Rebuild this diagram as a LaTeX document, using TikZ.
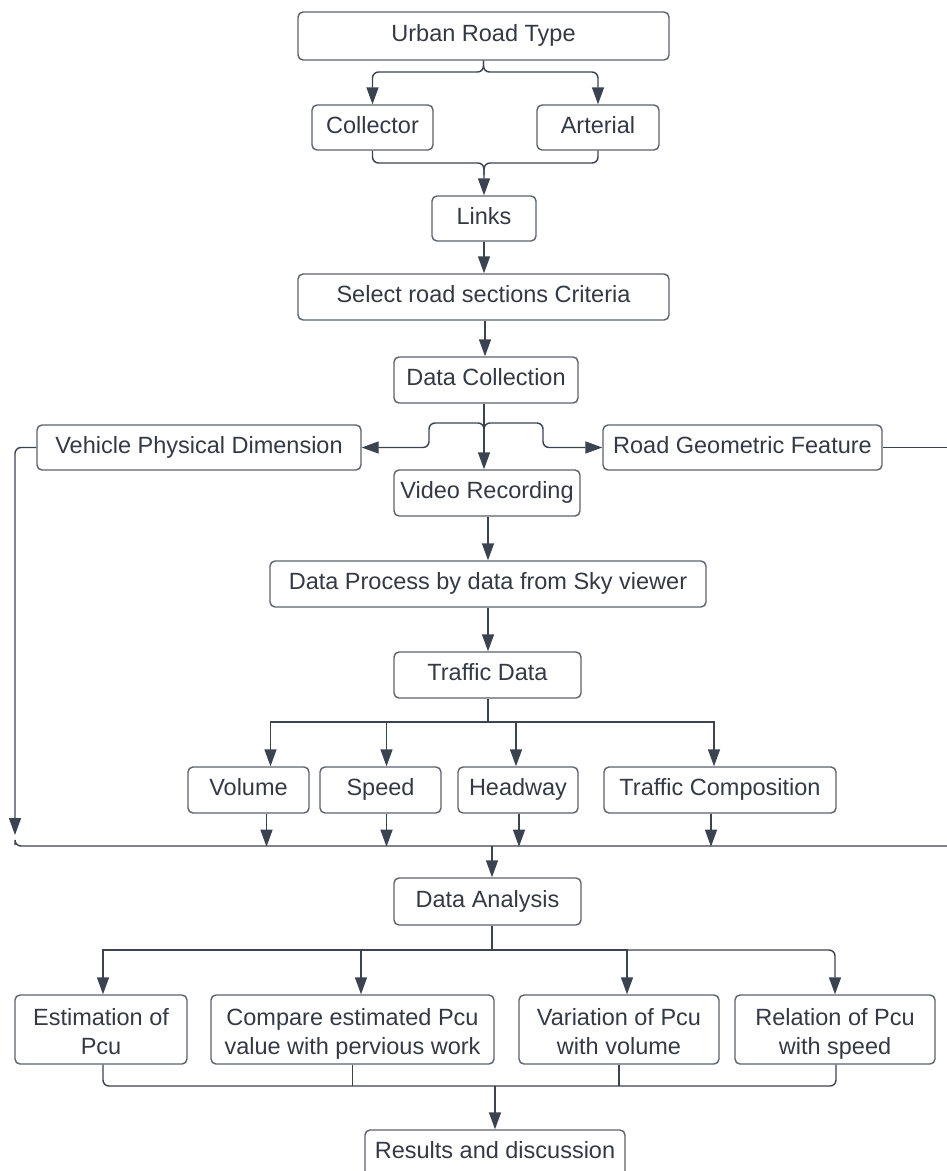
\documentclass[tikz,border=0pt]{standalone}
\usepackage{fontspec}
\setmainfont{Liberation Sans}
\usetikzlibrary{arrows.meta}
\definecolor{linec}{HTML}{3B4350}
\definecolor{boxc}{HTML}{5C636E}
\definecolor{txtc}{HTML}{333A45}
\tikzset{
  bxbase/.style={draw=boxc, line width=1.4pt, rounded corners=5pt, fill=white, text=txtc,
    inner sep=0pt, align=center, font=\fontsize{23.5}{29}\selectfont},
  bx/.style={bxbase, text height=16pt, text depth=5pt},
  conn/.style={draw=linec, line width=1.4pt},
  rconn/.style={conn, rounded corners=6pt},
  arr/.style={conn, -{Triangle[length=17pt,width=12pt]}},
  rarr/.style={rconn, -{Triangle[length=17pt,width=12pt]}},
}
\newcommand{\bxnode}[6]{\node[bx, minimum width=#4pt, minimum height=#5pt] (#1) at (#2,#3) {#6};}
\newcommand{\mlnode}[7]{\node[bxbase, minimum width=#4pt, minimum height=#5pt] (#1) at (#2,#3)
  {\rule{0pt}{26pt}#6\\#7\rule[-5pt]{0pt}{5pt}};}
\begin{document}
\begin{tikzpicture}[x=1pt,y=-1pt]
\useasboundingbox (0,0) rectangle (947,1171);
\clip (0,0) rectangle (947,1171);
\fill[white] (0,0) rectangle (947,1171);
% nodes
\bxnode{urban}{483.5}{36}{371}{48}{Urban Road Type}
\bxnode{collector}{372.5}{127.5}{121}{45}{Collector}
\bxnode{arterial}{598}{127.5}{122}{45}{Arterial}
\bxnode{links}{484}{218.5}{104}{45}{Links}
\bxnode{select}{483.5}{297}{371}{46}{Select road sections Criteria}
\bxnode{dc}{486}{380}{184}{46}{Data Collection}
\bxnode{vehicle}{199}{447.5}{324}{45}{Vehicle Physical Dimension}
\bxnode{road}{742.5}{447.5}{279}{45}{Road Geometric Feature}
\bxnode{video}{487}{493}{186}{46}{Video Recording}
\bxnode{dp}{488}{584}{436}{46}{Data Process by data from Sky viewer}
\bxnode{td}{487.5}{675}{187}{46}{Traffic Data}
\bxnode{volume}{248.5}{790}{121}{46}{Volume}
\bxnode{speed}{380.5}{790}{121}{46}{Speed}
\bxnode{headway}{518}{790}{120}{46}{Headway}
\bxnode{tc}{720}{790}{232}{46}{Traffic Composition}
\bxnode{da}{487.5}{901.5}{187}{47}{Data Analysis}
\mlnode{est}{101}{1029.5}{172}{69}{Estimation of}{Pcu}
\mlnode{cmp}{352.5}{1029.5}{283}{69}{Compare estimated Pcu}{value with pervious work}
\mlnode{var}{619}{1029.5}{200}{69}{Variation of Pcu}{with volume}
\mlnode{rel}{835}{1029.5}{200}{69}{Relation of Pcu}{with speed}
\bxnode{res}{495}{1153}{260}{46}{Results and discussion}
% coordinates
\coordinate (topsplit) at (483.5,72);
\coordinate (linkjoin) at (484,163);
\coordinate (sx) at (485,0);
\coordinate (dcsplit) at (484,423);
\coordinate (vx) at (488,0);
\coordinate (leftdown) at (15,835);
\coordinate (collect) at (492,846);
\coordinate (rightedge) at (950,447.5);
\coordinate (rightedge2) at (950,846);
\coordinate (tdsplit) at (488,722);
\coordinate (dasplit) at (492,950);
\coordinate (resjoin) at (495,1086);
% top
\draw[rarr] (urban.south) -- (topsplit) -| (collector.north);
\draw[rarr] (urban.south) -- (topsplit) -| (arterial.north);
\draw[rconn] (collector.south) |- (linkjoin) -- ++(0,12);
\draw[rarr] (arterial.south) |- (linkjoin) -- (links.north);
\draw[arr] (links.south) -- (select.north -| links.south);
\draw[arr] (select.south -| sx) -- (dc.north -| sx);
% data collection
\draw[arr] (dc.south -| dcsplit) -- (video.north -| dcsplit);
\draw[rarr] ([yshift=-8]dcsplit) -- (dcsplit) -- (429,423) |- (vehicle.east);
\draw[rarr] ([yshift=-8]dcsplit) -- (dcsplit) -- (543,423) |- (road.west);
\draw[arr] (video.south -| vx) -- (dp.north -| vx);
\draw[arr] (dp.south -| vx) -- (td.north -| vx);
% side lines
\draw[rarr] (vehicle.west) -| (leftdown);
\draw[rconn] ([yshift=-10]leftdown) -- (15,846) -- (rightedge2);
\draw[conn] (road.east) -- (rightedge);
% traffic data branch
\draw[arr] (td.south -| tdsplit) -- (tdsplit) -| ([xshift=22]volume.north);
\draw[arr] (tdsplit) -| ([xshift=6]speed.north);
\draw[arr] (tdsplit) -| ([xshift=-2]headway.north);
\draw[arr] (tdsplit) -| ([xshift=-6]tc.north);
\draw[arr] ([xshift=18]volume.south) -- ++(0,33);
\draw[arr] ([xshift=6]speed.south) -- ++(0,33);
\draw[arr] ([xshift=1]headway.south) -- ++(0,33);
\draw[arr] ([xshift=-9]tc.south) -- ++(0,33);
\draw[arr] (collect) -- (collect |- da.north);
% analysis branch
\draw[conn] (da.south -| dasplit) -- (dasplit);
\draw[arr] (dasplit) -| ([xshift=2]est.north);
\draw[arr] (dasplit) -| ([xshift=8.5]cmp.north);
\draw[arr] (dasplit) -| ([xshift=8]var.north);
\draw[rarr] (dasplit) -| (rel.north);
\draw[rconn] ([xshift=2]est.south) |- (resjoin);
\draw[conn] (cmp.south) -- (cmp.south |- resjoin);
\draw[conn] (var.south) -- (var.south |- resjoin);
\draw[rconn] ([xshift=1]rel.south) |- (resjoin);
\draw[arr] (resjoin) -- (res.north -| resjoin);
\end{tikzpicture}
\end{document}
